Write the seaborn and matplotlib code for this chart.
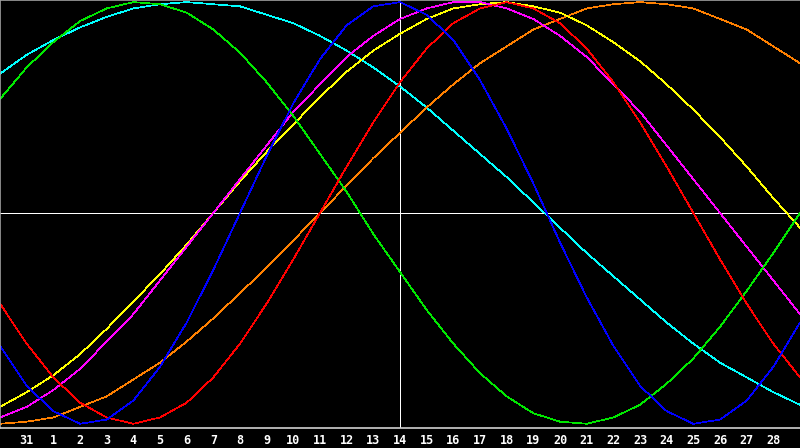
import pandas as pd
import numpy as np
import seaborn as sns
import matplotlib.pyplot as plt

# Biorhythm values (percent), one point per day, day index 0..30
days = list(range(31))
day_labels = ['31'] + [str(d) for d in range(1, 29)]
tick_pos = list(range(1, 30))
today = 15

physical = [-63, -82, -94, -100, -98, -89, -73, -52, -27, 0, 27, 52, 73, 89, 98, 100,
            94, 82, 63, 40, 14, -14, -40, -63, -82, -94, -100, -98, -89, -73, -52]
emotional = [-43, -62, -78, -90, -97, -100, -97, -90, -78, -62, -43, -22, 0, 22, 43, 62,
             78, 90, 97, 100, 97, 90, 78, 62, 43, 22, 0, -22, -43, -62, -78]
intellectual = [54, 69, 81, 91, 97, 100, 99, 95, 87, 76, 62, 46, 28, 10, -10, -28,
                -46, -62, -76, -87, -95, -99, -100, -97, -91, -81, -69, -54, -37, -19, 0]
intuitive = [-97, -92, -84, -74, -61, -48, -32, -16, 0, 16, 32, 48, 61, 74, 84, 92,
             97, 100, 100, 97, 92, 84, 74, 61, 48, 32, 16, 0, -16, -32, -48]
aesthetic = [-92, -85, -77, -67, -55, -42, -29, -15, 0, 15, 29, 42, 55, 67, 77, 85,
             92, 97, 99, 100, 98, 95, 89, 81, 72, 61, 49, 36, 22, 7, -7]
awareness = [-100, -99, -97, -92, -87, -79, -71, -61, -50, -38, -26, -13, 0, 13, 26, 38,
             50, 61, 71, 79, 87, 92, 97, 99, 100, 99, 97, 92, 87, 79, 71]
spiritual = [66, 75, 82, 88, 93, 97, 99, 100, 99, 98, 94, 90, 84, 77, 69, 60,
             50, 39, 28, 17, 5, -7, -19, -30, -41, -52, -62, -71, -78, -85, -91]

series = {
    'spiritual': spiritual,
    'awareness': awareness,
    'aesthetic': aesthetic,
    'intuitive': intuitive,
    'intellectual': intellectual,
    'emotional': emotional,
    'physical': physical,
}
colors = {
    'physical': '#0000ff',
    'emotional': '#ff0000',
    'intellectual': '#00e800',
    'intuitive': '#ff00ff',
    'aesthetic': '#ffff00',
    'awareness': '#ff8000',
    'spiritual': '#00ffff',
}

df = pd.concat([pd.DataFrame({'day': days, 'value': v, 'cycle': k}) for k, v in series.items()])

sns.set_style('dark', {'axes.facecolor': 'black', 'figure.facecolor': 'black'})
plt.rcParams['font.family'] = ['DejaVu Sans Mono', 'DejaVu Sans']

fig = plt.figure(figsize=(8, 4.48), dpi=100)
ax = fig.add_axes([0, 20 / 448, 1, 428 / 448])

ax.axhline(0, color='white', linewidth=0.7, antialiased=False, zorder=1)
ax.axvline(today, color='white', linewidth=0.7, antialiased=False, zorder=1)

sns.lineplot(data=df, x='day', y='value', hue='cycle', palette=colors, linewidth=0.5,
             legend=False, ax=ax, antialiased=False, zorder=2)

ax.set_xlim(0, 30)
ax.set_ylim(-102, 101)
ax.set_yticks([])
ax.set_xticks(tick_pos)
ax.set_xticklabels(day_labels, color='white', fontsize=8.5, fontweight='bold')
ax.tick_params(axis='x', direction='in', length=5, width=1, color='white', pad=4)
ax.set_xlabel('')
ax.set_ylabel('')
ax.grid(False)

for side in ['left', 'top']:
    ax.spines[side].set_visible(True)
    ax.spines[side].set_color('#a0a0a0')
    ax.spines[side].set_linewidth(1.2)
ax.spines['bottom'].set_visible(True)
ax.spines['bottom'].set_color('#d0d0d0')
ax.spines['bottom'].set_linewidth(1.2)
ax.spines['right'].set_visible(False)

fig.savefig('out.png', dpi=100, facecolor='black')
